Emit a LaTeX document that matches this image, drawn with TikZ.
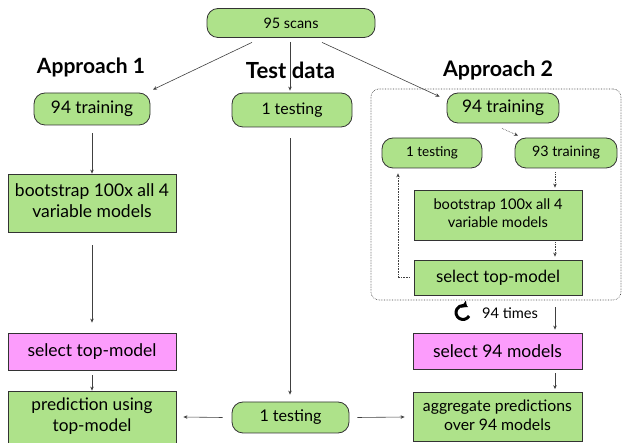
\documentclass[tikz,border=0pt]{standalone}
\usepackage{fontspec}
\usepackage{graphicx}
\setmainfont{Lato}
\usetikzlibrary{arrows.meta,calc}
\definecolor{boxgreen}{HTML}{AEE28A}
\definecolor{boxpink}{HTML}{FC9CFC}
\definecolor{edge}{HTML}{333333}
\newcommand\fitw[2]{\resizebox{#1}{!}{#2}}
\newcommand\twol[2]{\begin{tabular}{@{}c@{}}#1\\#2\end{tabular}}
\tikzset{
  base/.style={draw=edge, line width=0.8pt, align=center, inner sep=0pt, text=black,
    font=\fontsize{15}{18}\selectfont},
  rbox/.style={base, fill=boxgreen, rounded corners=11pt},
  sbox/.style={base, fill=boxgreen},
  pbox/.style={base, fill=boxpink},
  head/.style={inner sep=0pt, font=\fontsize{17}{20}\selectfont\bfseries},
  plain/.style={inner sep=0pt, font=\fontsize{15}{18}\selectfont},
  arr/.style={draw=black!75, line width=0.6pt, -{Stealth[length=4pt,width=3.5pt]}},
  darr/.style={arr, densely dotted},
}
\begin{document}
\begin{tikzpicture}[x=1pt,y=-1pt]
\useasboundingbox (0,0) rectangle (622,443);
% top
\node[rbox, minimum width=168pt, minimum height=29pt] (scans) at (291,23) {\fitw{55pt}{95 scans}};
\node[head] (h1) at (91,67) {\fitw{108pt}{Approach 1}};
\node[head] (h2) at (290.5,70) {\fitw{89pt}{Test data}};
\node[head] (h3) at (498,70) {\fitw{110pt}{Approach 2}};
% approach 1
\node[rbox, minimum width=116pt, minimum height=32pt] (tr1) at (92,109) {\fitw{82pt}{94 training}};
\node[sbox, minimum width=168pt, minimum height=58pt] (bs1) at (92,203) {\fitw{154pt}{\twol{bootstrap 100x all 4}{variable models}}};
\node[pbox, minimum width=168pt, minimum height=37pt] (sel1) at (92,351.5) {\fitw{129pt}{select top-model}};
\node[sbox, minimum width=168pt, minimum height=52pt] (pred) at (92,417) {\fitw{121pt}{\twol{prediction using}{top-model}}};
% test data
\node[rbox, minimum width=120pt, minimum height=34pt] (te1) at (292,110) {\fitw{61pt}{1 testing}};
\node[rbox, minimum width=117pt, minimum height=31pt] (te3) at (290.5,417.5) {\fitw{62pt}{1 testing}};
% approach 2
\node[draw=black!75, densely dotted, line width=0.6pt, rounded corners=8pt, minimum width=250pt, minimum height=211pt, inner sep=0pt] (loop) at (496,194.5) {};
\node[rbox, minimum width=112pt, minimum height=30pt] (tr2) at (503,108) {\fitw{82pt}{94 training}};
\node[rbox, minimum width=100pt, minimum height=30pt] (te2) at (432,153) {\fitw{52pt}{1 testing}};
\node[rbox, minimum width=102pt, minimum height=30pt] (tr3) at (566,153) {\fitw{68pt}{93 training}};
\node[sbox, minimum width=168pt, minimum height=50pt] (bs2) at (498,215) {\fitw{129pt}{\twol{bootstrap 100x all 4}{variable models}}};
\node[sbox, minimum width=168pt, minimum height=35pt] (sel2) at (498,277.5) {\fitw{124pt}{select top-model}};
\node[plain] (times) at (510,313) {\fitw{56pt}{94 times}};
\draw[line width=3pt, -{Triangle[length=4.5pt,width=8.5pt]}] (463,312.5) ++(30:7) arc[start angle=30, end angle=305, radius=7];
\node[pbox, minimum width=169pt, minimum height=36pt] (sel94) at (497.5,351) {\fitw{129pt}{select 94 models}};
\node[sbox, minimum width=169pt, minimum height=49pt] (agg) at (497.5,417) {\fitw{149pt}{\twol{aggregate predictions}{over 94 models}}};
% connectors
\draw[arr] ($(scans.south)+(-39,4.5)$) -- ($(tr1.north)+(61,-3)$);
\draw[arr] ($(scans.south)+(-1,4)$) -- ($(te1.north)+(-2,-2)$);
\draw[arr] ($(scans.south)+(31,4.5)$) -- ($(tr2.north west)+(-7,4)$);
\draw[arr] ($(tr1.south)+(0,8)$) -- (bs1.north);
\draw[arr] ($(bs1.south)+(0,13)$) -- ($(sel1.north)+(0,-10)$);
\draw[arr] ($(sel1.south)+(0,5)$) -- (pred.north);
\draw[arr] ($(te1.south)+(-2,11)$) -- ($(te3.north)+(-0.5,-7)$);
\draw[arr] ($(te3.west)+(-9,0)$) -- ($(pred.east)+(7,0)$);
\draw[arr] ($(te3.east)+(8,0)$) -- ($(agg.west)+(-8,0)$);
\draw[darr] ($(tr2.south)+(-1,5)$) -- ($(tr3.north)+(-48,-2)$);
\draw[darr] ($(tr3.south)+(-11,4)$) -- ($(bs2.north)+(57,-2)$);
\draw[darr] ($(bs2.south)+(57,2)$) -- ($(sel2.north)+(57,-3)$);
\draw[darr] ($(sel2.west)+(-4,0)$) -| ($(te2.south)+(-34,5)$);
\draw[arr] ($(loop.south)+(59,7)$) -- ($(sel94.north)+(57.5,-3)$);
\draw[arr] ($(sel94.south)+(57.5,4)$) -- ($(agg.north)+(57.5,-3)$);
\end{tikzpicture}
\end{document}
